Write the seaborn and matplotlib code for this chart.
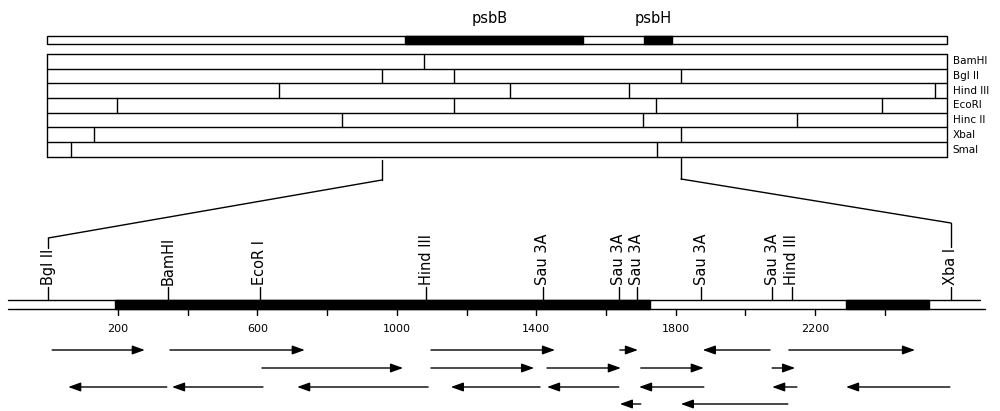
import matplotlib
matplotlib.use("Agg")
import matplotlib.pyplot as plt
import seaborn as sns
from matplotlib.patches import Rectangle, ConnectionPatch

# ---------------- data ----------------
# upper overview map (positions in kb)
map_length_kb = 7.79
gene_names = ["psbB", "psbH"]
gene_start_kb = [3.10, 5.17]
gene_end_kb = [4.64, 5.41]

enzymes = ["BamHI", "Bgl II", "Hind III", "EcoRI", "Hinc II", "XbaI", "SmaI"]
cuts_bamhi = [3.26]
cuts_bglii = [2.90, 3.52, 5.49]
cuts_hindiii = [2.01, 4.01, 5.04, 7.69]
cuts_ecori = [0.61, 3.52, 5.27, 7.23]
cuts_hincii = [2.55, 5.16, 6.49]
cuts_xbai = [0.41, 5.49]
cuts_smai = [0.21, 5.28]
enzyme_cuts = [cuts_bamhi, cuts_bglii, cuts_hindiii, cuts_ecori,
               cuts_hincii, cuts_xbai, cuts_smai]

zoom_from_kb = 2.90   # Bgl II
zoom_to_kb = 5.49     # Xba I

# lower detailed map (positions in bp)
fragment_start_bp = -115
fragment_end_bp = 2673
coding_start_bp = [192, 2289]
coding_end_bp = [1727, 2527]
site_names = ["Bgl II", "BamHI", "EcoR I", "Hind III", "Sau 3A", "Sau 3A",
              "Sau 3A", "Sau 3A", "Sau 3A", "Hind III", "Xba I"]
site_bp = [0, 344, 607, 1084, 1419, 1637, 1689, 1873, 2077, 2134, 2590]
scale_ticks_bp = [200, 400, 600, 800, 1000, 1200, 1400, 1600, 1800, 2000, 2200, 2400]
scale_labels_bp = [200, 600, 1000, 1400, 1800, 2200]

# sequencing strategy arrows: tail -> head (bp), one list pair per row
seq1_from = [11, 349, 1098, 1640, 2071, 2125]
seq1_to = [277, 736, 1454, 1692, 1878, 2487]
seq2_from = [613, 1098, 1431, 1700, 2077]
seq2_to = [1018, 1394, 1643, 1881, 2143]
seq3_from = [340, 616, 1090, 1411, 1637, 1881, 2148, 2587]
seq3_to = [57, 355, 714, 1155, 1431, 1695, 2077, 2289]
seq4_from = [1700, 2122]
seq4_to = [1640, 1815]
seq_rows = [(seq1_from, seq1_to), (seq2_from, seq2_to),
            (seq3_from, seq3_to), (seq4_from, seq4_to)]

# ---------------- style / layout ----------------
sns.set_theme(style="white")
plt.rcParams["font.family"] = ["DejaVu Sans"]
plt.rcParams["text.color"] = "black"
LW = 1.0
W, H = 1000, 411

fig = plt.figure(figsize=(10, 4.11), dpi=100)
fig.patch.set_facecolor("white")

# top axis: kb scale, 0 kb at x=47 px, 115.5 px per kb
ax_top = fig.add_axes([0, 0, 1, 1])
ax_top.set_xlim(-47 / 115.5, (W - 47) / 115.5)
ax_top.set_ylim(H, 0)
ax_top.axis("off")

# bottom axis: bp scale, 0 bp at x=48.3 px, 0.3485 px per bp
ax_bot = fig.add_axes([0, 0, 1, 1])
ax_bot.set_xlim(-48.3 / 0.3485, (W - 48.3) / 0.3485)
ax_bot.set_ylim(H, 0)
ax_bot.axis("off")
ax_bot.patch.set_visible(False)

# ---- upper gene map ----
g_top, g_h = 36, 8
ax_top.add_patch(Rectangle((0, g_top), map_length_kb, g_h, fc="white",
                           ec="black", lw=LW))
for name, s, e in zip(gene_names, gene_start_kb, gene_end_kb):
    ax_top.add_patch(Rectangle((s, g_top), e - s, g_h, fc="black", ec="black", lw=LW))
    ax_top.text((s + e) / 2 - 0.04, 19, name, ha="center", va="center", fontsize=10.5)

# ---- restriction rows ----
row_top0, row_h = 54, 14.7
n = len(enzymes)
bounds = [row_top0 + row_h * i for i in range(n + 1)]
for yb in bounds:
    ax_top.plot([0, map_length_kb], [yb, yb], color="black", lw=LW)
ax_top.plot([0, 0], [bounds[0], bounds[-1]], color="black", lw=LW)
ax_top.plot([map_length_kb, map_length_kb], [bounds[0], bounds[-1]], color="black", lw=LW)
for i, (enz, cuts) in enumerate(zip(enzymes, enzyme_cuts)):
    for c in cuts:
        ax_top.plot([c, c], [bounds[i], bounds[i + 1]], color="black", lw=LW)
    ax_top.text(map_length_kb + 0.05, (bounds[i] + bounds[i + 1]) / 2, enz,
                ha="left", va="center", fontsize=7.5)

# ---- lower detailed map ----
bar_top, bar_bot = 300, 309
ax_bot.plot([fragment_start_bp, fragment_end_bp], [bar_top, bar_top], color="black", lw=LW)
ax_bot.plot([fragment_start_bp, fragment_end_bp + 15], [bar_bot, bar_bot], color="black", lw=LW)
for s, e in zip(coding_start_bp, coding_end_bp):
    ax_bot.add_patch(Rectangle((s, bar_top), e - s, bar_bot - bar_top,
                               fc="black", ec="black", lw=LW))

site_texts = []
for name, p in zip(site_names, site_bp):
    ax_bot.plot([p, p], [287, bar_top], color="black", lw=LW)
    t = ax_bot.text(p, 285, name, rotation=90, rotation_mode="anchor",
                    ha="left", va="center", fontsize=10.5)
    site_texts.append(t)

for tk in scale_ticks_bp:
    ax_bot.plot([tk, tk], [bar_bot, bar_bot + 6], color="black", lw=LW)
for lb in scale_labels_bp:
    ax_bot.text(lb, 329, str(lb), ha="center", va="center", fontsize=8)

# ---- sequencing arrows ----
row_y = [350, 368, 387, 404]
for y, (froms, tos) in zip(row_y, seq_rows):
    for a, b in zip(froms, tos):
        ax_bot.annotate("", xy=(b, y), xytext=(a, y),
                        arrowprops=dict(arrowstyle="-|>,head_length=0.75,head_width=0.27",
                                        color="black", lw=1.0, shrinkA=0, shrinkB=0,
                                        mutation_scale=10))

# ---- zoom connectors ----
fig.canvas.draw()
renderer = fig.canvas.get_renderer()
inv = ax_bot.transData.inverted()

def label_top(txt):
    bb = txt.get_window_extent(renderer)
    return inv.transform((bb.x0, bb.y1))[1]

left_top_y = label_top(site_texts[0])
right_top_y = label_top(site_texts[-1])

ax_top.plot([zoom_from_kb, zoom_from_kb], [160, 180], color="black", lw=LW)
ax_top.plot([zoom_to_kb, zoom_to_kb], [158, 179], color="black", lw=LW)
fig.add_artist(ConnectionPatch(xyA=(zoom_from_kb, 180), coordsA=ax_top.transData,
                               xyB=(site_bp[0], 238), coordsB=ax_bot.transData,
                               color="black", lw=LW))
fig.add_artist(ConnectionPatch(xyA=(zoom_to_kb, 179), coordsA=ax_top.transData,
                               xyB=(site_bp[-1], 223), coordsB=ax_bot.transData,
                               color="black", lw=LW))
ax_bot.plot([site_bp[0], site_bp[0]], [238, left_top_y - 1], color="black", lw=LW)
ax_bot.plot([site_bp[-1], site_bp[-1]], [223, right_top_y - 1], color="black", lw=LW)

fig.savefig("out.png", dpi=100, facecolor="white")
